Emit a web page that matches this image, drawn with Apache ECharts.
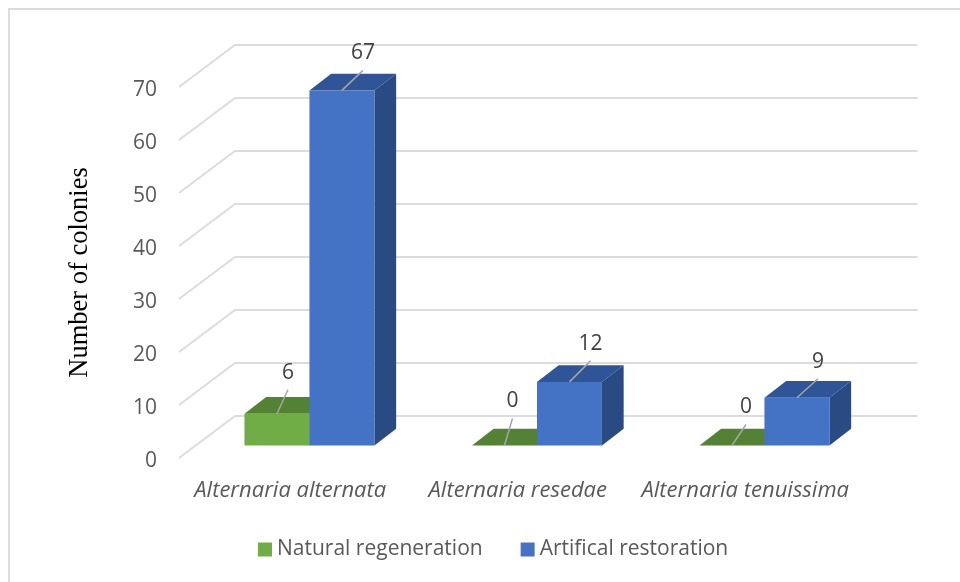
<!DOCTYPE html>
<html>
<head>
<meta charset="utf-8">
<style>html,body{margin:0;padding:0;background:#fff}#c{width:960px;height:582px}</style>
<script src="https://cdn.jsdelivr.net/npm/echarts@6/dist/echarts.min.js"></script>
</head>
<body>
<div id="c"></div>
<script>
var categories = ['Alternaria alternata', 'Alternaria resedae', 'Alternaria tenuissima'];
var naturalRegeneration = [6, 0, 0];
var artificalRestoration = [67, 12, 9];
var yTicks = [0, 10, 20, 30, 40, 50, 60, 70];

// Layout of the pseudo-3D box (pixels)
var FLOOR_DX = 56, FLOOR_DY = 42;
var BAR_INSET_DX = 16.7, BAR_INSET_DY = 12.5;
var BAR_DX = 21.7, BAR_DY = 16.7;
// leader line offsets, [dx, dy] per category
var greenLeaders = [[11, -24], [8, -27], [14, -21]];
var blueLeaders = [[21, -20], [21, -21], [21, -19]];
var LABEL_GAP = 17;

var FONT = '"Open Sans", sans-serif';

function wallItem(params, api) {
  var r = params.coordSys;
  var p = api.coord([0, api.value(0)]);
  var y = p[1];
  var style = { stroke: '#dcdcdc', lineWidth: 2, fill: 'none' };
  return {
    type: 'polyline',
    silent: true,
    shape: { points: [[r.x, y], [r.x + FLOOR_DX, y - FLOOR_DY], [r.x + r.width + FLOOR_DX, y - FLOOR_DY]] },
    style: style
  };
}

function barRenderer(slot, colors, leaders) {
  return function (params, api) {
    var idx = api.value(0), val = api.value(1);
    var catW = api.size([1, 0])[0];
    var w = catW * 2 / 7;
    var base = api.coord([idx, 0]);
    var top = api.coord([idx, val]);
    var x0 = base[0] + BAR_INSET_DX + slot * w;
    var x1 = x0 + w;
    var yb = base[1] - BAR_INSET_DY;
    var yt = top[1] - BAR_INSET_DY;
    var kids = [];
    kids.push({ type: 'polygon', shape: { points: [[x1, yt], [x1 + BAR_DX, yt - BAR_DY], [x1 + BAR_DX, yb - BAR_DY], [x1, yb]] }, style: { fill: colors.side } });
    kids.push({ type: 'polygon', shape: { points: [[x0, yt], [x0 + BAR_DX, yt - BAR_DY], [x1 + BAR_DX, yt - BAR_DY], [x1, yt]] }, style: { fill: colors.top } });
    if (yb > yt) {
      kids.push({ type: 'rect', shape: { x: x0, y: yt, width: w, height: yb - yt }, style: { fill: colors.front } });
    }
    var mx = (x0 + x1) / 2;
    var off = leaders[idx];
    kids.push({ type: 'line', shape: { x1: mx, y1: yt, x2: mx + off[0], y2: yt + off[1] }, style: { stroke: '#a6a6a6', lineWidth: 1.5 } });
    kids.push({ type: 'text', style: { x: mx + off[0], y: yt + off[1] - LABEL_GAP, text: String(val), fill: '#404040', font: '21px ' + FONT, textAlign: 'center', textVerticalAlign: 'middle' } });
    return { type: 'group', children: kids };
  };
}

var chart = echarts.init(document.getElementById('c'), null, { renderer: 'canvas' });
chart.setOption({
  animation: false,
  backgroundColor: '#fff',
  graphic: [{ type: 'polyline', silent: true, z: -1, shape: { points: [[9, 582], [9, 9], [960, 9]] }, style: { fill: 'none', stroke: '#dcdcdc', lineWidth: 2 } }],
  grid: { left: 179, top: 87, width: 682.5, height: 371, containLabel: false },
  legend: {
    left: 253, top: 534, icon: 'rect', itemWidth: 14, itemHeight: 14, itemGap: 38,
    data: ['Natural regeneration', 'Artifical restoration'],
    textStyle: { fontFamily: FONT, fontSize: 21, color: '#595959' }
  },
  xAxis: {
    type: 'category', data: categories,
    axisLine: { show: false }, axisTick: { show: false }, splitLine: { show: false },
    axisLabel: { margin: 22, fontFamily: FONT, fontSize: 22, fontStyle: 'italic', color: '#595959', interval: 0, padding: [0, 5, 0, 0] }
  },
  yAxis: {
    type: 'value', min: 0, max: 70, interval: 10,
    axisLine: { show: false }, axisTick: { show: false }, splitLine: { show: false },
    axisLabel: {
      margin: 22, formatter: '{t|{value}}',
      rich: { t: { fontFamily: FONT, fontSize: 21, color: '#595959', padding: [6, 0, 0, 0] } }
    },
    name: 'Number of colonies', nameLocation: 'middle', nameGap: 85, nameRotate: 90,
    nameTextStyle: { fontFamily: '"Liberation Serif", serif', fontSize: 26.5, color: '#000' }
  },
  series: [
    { type: 'custom', name: 'walls', silent: true, renderItem: wallItem, data: yTicks.map(function (v) { return [v]; }), encode: { y: 0 }, z: 1 },
    { type: 'custom', name: 'Natural regeneration', itemStyle: { color: '#70AD47' }, z: 2,
      renderItem: barRenderer(-1, { front: '#70AD47', top: '#548235', side: '#4E7A32' }, greenLeaders),
      data: naturalRegeneration.map(function (v, i) { return [i, v]; }), encode: { x: 0, y: 1 } },
    { type: 'custom', name: 'Artifical restoration', itemStyle: { color: '#4472C4' }, z: 3,
      renderItem: barRenderer(0, { front: '#4472C4', top: '#2F5597', side: '#294A82' }, blueLeaders),
      data: artificalRestoration.map(function (v, i) { return [i, v]; }), encode: { x: 0, y: 1 } }
  ]
});
</script>
</body>
</html>
